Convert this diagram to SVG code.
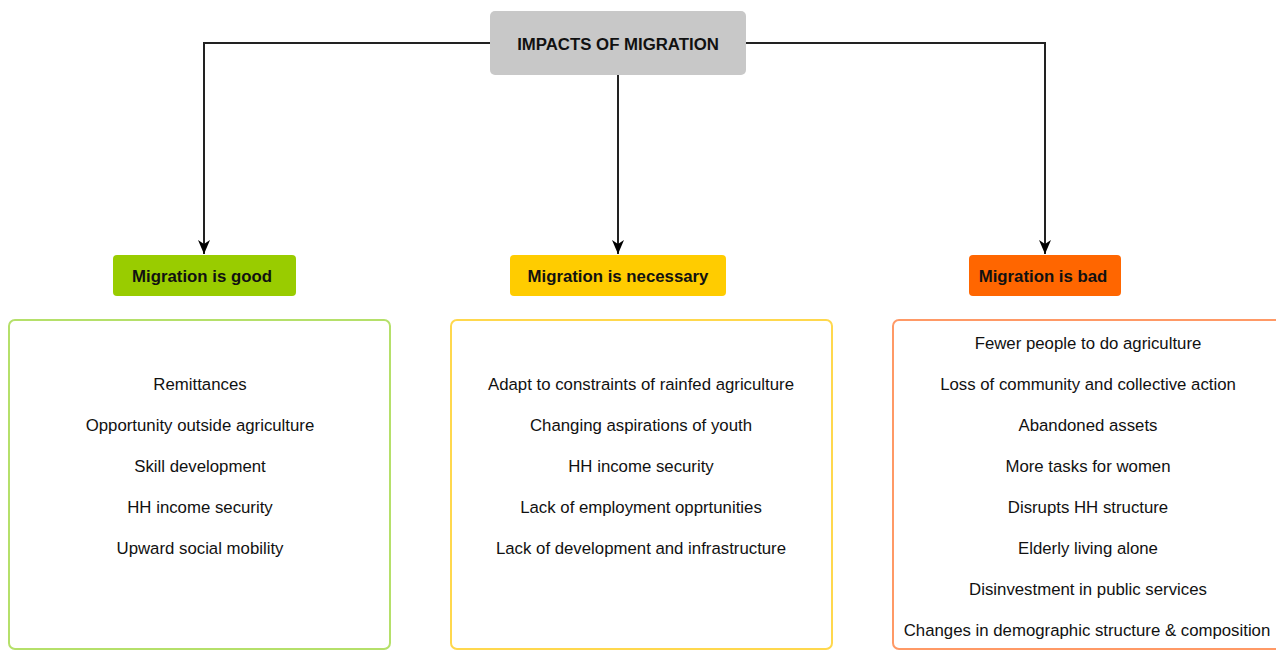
<svg xmlns="http://www.w3.org/2000/svg" width="1276" height="650" viewBox="0 0 1276 650">
<defs>
<marker id="arr" markerWidth="14" markerHeight="12" refX="14" refY="6" orient="auto" markerUnits="userSpaceOnUse" viewBox="0 0 14 12">
<path d="M0,0 L14,6 L0,12 L4,6 Z" fill="#000"/>
</marker>
<style>
.t{font-family:"Liberation Sans",Arial,sans-serif;font-size:16.8px;fill:#111;text-anchor:middle;dominant-baseline:central}
.b{font-weight:bold}
.conn{fill:none;stroke:#222;stroke-width:2}
</style>
</defs>
<rect width="1276" height="650" fill="#fff"/>
<g id="connectors">
<path class="conn" d="M490,43 H204 V254" marker-end="url(#arr)"/>
<path class="conn" d="M618,75 V254" marker-end="url(#arr)"/>
<path class="conn" d="M746,43 H1045 V254" marker-end="url(#arr)"/>
</g>
<g id="root">
<rect x="490" y="11" width="256" height="64" rx="5" fill="#c8c8c8"/>
<text class="t b" x="618" y="44">IMPACTS OF MIGRATION</text>
</g>
<g id="good">
<rect x="113" y="255" width="183" height="41" rx="4" fill="#99cc00"/>
<text class="t b" x="202" y="276">Migration is good</text>
</g>
<g id="necessary">
<rect x="510" y="255" width="216" height="41" rx="4" fill="#ffcc00"/>
<text class="t b" x="618" y="276">Migration is necessary</text>
</g>
<g id="bad">
<rect x="969" y="255" width="152" height="41" rx="4" fill="#ff6600"/>
<text class="t b" x="1043" y="276">Migration is bad</text>
</g>
<g id="good-list">
<rect x="9" y="320" width="381" height="329" rx="6" fill="#fff" stroke="#b5e06a" stroke-width="2"/>
<text class="t" x="200" y="384">Remittances</text>
<text class="t" x="200" y="425">Opportunity outside agriculture</text>
<text class="t" x="200" y="466">Skill development</text>
<text class="t" x="200" y="507">HH income security</text>
<text class="t" x="200" y="548">Upward social mobility</text>
</g>
<g id="necessary-list">
<rect x="451" y="320" width="381" height="329" rx="6" fill="#fff" stroke="#ffd84d" stroke-width="2"/>
<text class="t" x="641" y="384">Adapt to constraints of rainfed agriculture</text>
<text class="t" x="641" y="425">Changing aspirations of youth</text>
<text class="t" x="641" y="466">HH income security</text>
<text class="t" x="641" y="507">Lack of employment opprtunities</text>
<text class="t" x="641" y="548">Lack of development and infrastructure</text>
</g>
<g id="bad-list">
<rect x="893" y="320" width="400" height="329" rx="6" fill="#fff" stroke="#ff9966" stroke-width="2"/>
<text class="t" x="1088" y="343">Fewer people to do agriculture</text>
<text class="t" x="1088" y="384">Loss of community and collective action</text>
<text class="t" x="1088" y="425">Abandoned assets</text>
<text class="t" x="1088" y="466">More tasks for women</text>
<text class="t" x="1088" y="507">Disrupts HH structure</text>
<text class="t" x="1088" y="548">Elderly living alone</text>
<text class="t" x="1088" y="589">Disinvestment in public services</text>
<text class="t" x="1087" y="630">Changes in demographic structure &amp; composition</text>
</g>
</svg>
